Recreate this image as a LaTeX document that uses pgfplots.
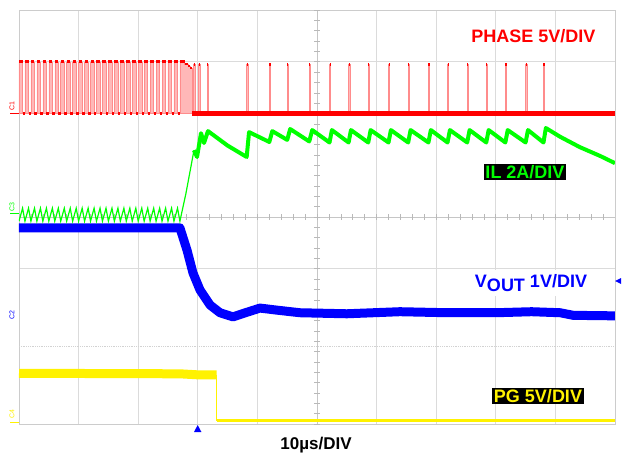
\documentclass[border=0pt]{standalone}
\usepackage{pgfplots}
\pgfplotsset{compat=1.18}
\usepackage{fontspec}
\setmainfont{Liberation Sans}
\begin{document}
\begin{tikzpicture}
\useasboundingbox (0pt,0pt) rectangle (624pt,456pt);
\fill[white] (0pt,0pt) rectangle (624pt,456pt);
\begin{axis}[at={(19pt,32pt)}, anchor=south west, scale only axis,
  width=596pt, height=414pt, xmin=-30, xmax=70, ymin=0, ymax=8,
  xtick={-20,-10,...,60}, ytick={3,4,7}, xticklabels={}, yticklabels={},
  major tick length=0pt, tick style={draw=none},
  grid=major, major grid style={gray!28, line width=0.6pt},
  axis line style={gray!40, line width=0.8pt}, clip=true]
% extra scope graticule
\draw[gray!35, densely dotted, line width=0.8pt] (axis cs:-30,1.5) -- (axis cs:70,1.5);
\draw[gray!45, line width=0.8pt] (axis cs:-30,4) -- (axis cs:70,4);
\draw[gray!45, line width=0.8pt] (axis cs:20,0) -- (axis cs:20,8);
\pgfplotsinvokeforeach{-30,-28,...,70}{\draw[gray!55, line width=0.6pt] (axis cs:#1,3.95) -- (axis cs:#1,4.05);}
\pgfplotsinvokeforeach{0,0.2,...,8}{\draw[gray!55, line width=0.6pt] (axis cs:19.5,#1) -- (axis cs:20.5,#1);}

% PG (yellow)
\addplot[yellow, line width=9pt, line cap=butt] coordinates {(-30,0.98)(-3,0.97)(0,0.95)(3.17,0.95)};
\addplot[yellow, line width=1pt] coordinates {(3.17,0.95)(3.17,0.06)};
\addplot[yellow, line width=3.5pt] coordinates {(3.17,0.068)(70,0.068)};

% VOUT (blue)
\addplot[blue, line width=9pt, line join=round] coordinates {
(-30,3.79)(-3,3.79)(-1.81,3.36)(-0.81,2.92)(0.37,2.59)(2.05,2.30)(3.72,2.15)(5.91,2.07)
(8.26,2.16)(10.44,2.24)(13.29,2.20)(17.15,2.15)(25,2.13)(33.9,2.17)(42,2.15)(50,2.15)
(56,2.17)(60.8,2.15)(63,2.10)(70,2.09)};

% IL (green), before the transient
\addplot[green, line width=1.2pt] coordinates {
(-30,3.92)(-29.4,4.17)(-29,3.92)(-28.4,4.17)(-28,3.92)(-27.4,4.17)(-27,3.92)(-26.4,4.17)
(-26,3.92)(-25.4,4.17)(-25,3.92)(-24.4,4.17)(-24,3.92)(-23.4,4.17)(-23,3.92)(-22.4,4.17)
(-22,3.92)(-21.4,4.17)(-21,3.92)(-20.4,4.17)(-20,3.92)(-19.4,4.17)(-19,3.92)(-18.4,4.17)
(-18,3.92)(-17.4,4.17)(-17,3.92)(-16.4,4.17)(-16,3.92)(-15.4,4.17)(-15,3.92)(-14.4,4.17)
(-14,3.92)(-13.4,4.17)(-13,3.92)(-12.4,4.17)(-12,3.92)(-11.4,4.17)(-11,3.92)(-10.4,4.17)
(-10,3.92)(-9.4,4.17)(-9,3.92)(-8.4,4.17)(-8,3.92)(-7.4,4.17)(-7,3.92)(-6.4,4.17)
(-6,3.92)(-5.4,4.17)(-5,3.92)(-4.4,4.17)(-4,3.92)(-3.4,4.17)(-3,3.92)(-2,4.45)(-0.64,5.29)};
% IL after the transient
\addplot[green, line width=4pt, line join=round] coordinates {
(-0.64,5.29)(-0.13,5.16)(0.54,5.62)(1.04,5.43)(1.71,5.66)(5,5.38)(8.2,5.16)(8.6,5.64)
(12.0,5.45)(12.5,5.66)(15.0,5.49)(15.5,5.70)(18.7,5.46)(19.2,5.68)(22.1,5.44)(22.5,5.68)
(25.3,5.44)(25.7,5.68)(28.6,5.44)(29.0,5.68)(32.0,5.44)(32.4,5.68)(35.3,5.44)(35.7,5.68)
(38.7,5.44)(39.1,5.68)(41.9,5.44)(42.3,5.68)(45.2,5.44)(45.6,5.68)(48.4,5.44)(48.8,5.68)
(51.6,5.44)(52.0,5.68)(55.0,5.44)(55.4,5.68)(58.0,5.44)(58.4,5.72)(60.8,5.55)(64.1,5.35)
(67.5,5.18)(70,5.04)};

% PHASE (red)
\pgfplotstableread{
t v
-30 6
-30 7
-29.4 6
-29 7
-28.4 6
-28 7
-27.4 6
-27 7
-26.4 6
-26 7
-25.4 6
-25 7
-24.4 6
-24 7
-23.4 6
-23 7
-22.4 6
-22 7
-21.4 6
-21 7
-20.4 6
-20 7
-19.4 6
-19 7
-18.4 6
-18 7
-17.4 6
-17 7
-16.4 6
-16 7
-15.4 6
-15 7
-14.4 6
-14 7
-13.4 6
-13 7
-12.4 6
-12 7
-11.4 6
-11 7
-10.4 6
-10 7
-9.4 6
-9 7
-8.4 6
-8 7
-7.4 6
-7 7
-6.4 6
-6 7
-5.4 6
-5 7
-4.4 6
-4 7
-3.4 6
-3 7
-2.2 6.96
-1.6 6.92
-1.3 6.88
-1.0 6
-0.7 6.95
-0.5 6
0.15 6.95
0.35 6
1.55 6.95
1.75 6
8.2 6.95
8.4 6
12.0 6.95
12.2 6
15.0 6.95
15.2 6
18.7 6.95
18.9 6
22.1 6.95
22.3 6
25.3 6.95
25.5 6
28.6 6.95
28.8 6
32.0 6.95
32.2 6
35.3 6.95
35.5 6
38.7 6.95
38.9 6
41.9 6.95
42.1 6
45.2 6.95
45.4 6
48.4 6.95
48.6 6
51.6 6.95
51.8 6
55.0 6.95
55.2 6
58.0 6.95
58.2 6
70 6
}\phase
\addplot[const plot, draw=red!45, line width=0.5pt, fill=red!28] table[x=t,y=v] {\phase} -- cycle;
\addplot[jump mark left, red, line width=2.6pt] table[x=t,y=v] {\phase};
\addplot[red, line width=5pt] coordinates {(-1.0,6.0)(70,6.0)};
\end{axis}

% labels
\node[text=red, font=\fontsize{18}{20}\selectfont\bfseries] at (533.5pt,420pt) {PHASE 5V/DIV};
\node[fill=black, text=green, inner sep=1.5pt, font=\fontsize{18}{20}\selectfont\bfseries] at (525pt,284pt) {IL 2A/DIV};
\node[fill=white, text=blue, inner sep=4pt, font=\fontsize{18}{20}\selectfont\bfseries] at (531pt,173pt) {V\raisebox{-4pt}{OUT} 1V/DIV};
\node[fill=black, text=yellow, inner sep=1.5pt, font=\fontsize{18}{20}\selectfont\bfseries] at (538pt,60pt) {PG 5V/DIV};
\node[font=\fontsize{17}{19}\selectfont\bfseries] at (316pt,11pt) {10µs/DIV};

% channel markers
\node[rotate=90, text=red, font=\fontsize{7}{7}\selectfont, inner sep=0pt] at (12pt,350pt) {C1};
\draw[red, line width=0.8pt] (10pt,343pt) -- (19pt,343pt);
\node[rotate=90, text=green, font=\fontsize{7}{7}\selectfont, inner sep=0pt] at (12pt,249pt) {C3};
\draw[green, line width=0.8pt] (10pt,243pt) -- (19pt,243pt);
\node[rotate=90, text=blue, font=\fontsize{7}{7}\selectfont, inner sep=0pt] at (12pt,141pt) {C2};
\node[rotate=90, text=yellow, font=\fontsize{7}{7}\selectfont, inner sep=0pt] at (12pt,42pt) {C4};
\draw[yellow, line width=0.8pt] (10pt,34pt) -- (19pt,34pt);
\fill[blue] (194pt,24pt) -- (201.4pt,24pt) -- (197.7pt,31pt) -- cycle;
\fill[blue] (615pt,175pt) -- (621pt,172pt) -- (621pt,178pt) -- cycle;
\end{tikzpicture}
\end{document}
